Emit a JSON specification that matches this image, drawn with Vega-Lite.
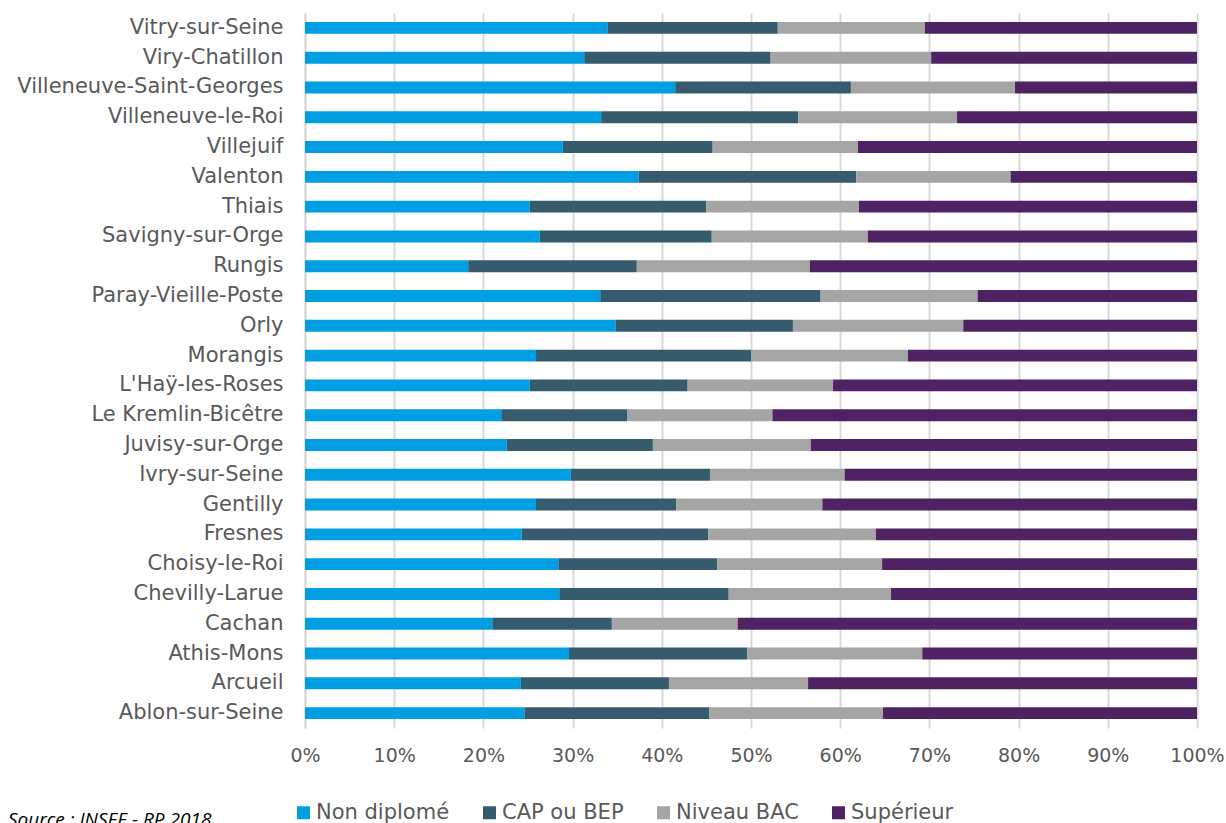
{
  "$schema": "https://vega.github.io/schema/vega-lite/v6.json",
  "width": 892,
  "height": 715,
  "autosize": {"type": "none"},
  "padding": {"left": 305, "top": 13, "right": 29, "bottom": 95},
  "background": "white",
  "title": {
    "text": "Source : INSEE - RP 2018",
    "orient": "bottom",
    "anchor": "start",
    "frame": "group",
    "font": "Open Sans",
    "fontSize": 19,
    "fontStyle": "italic",
    "fontWeight": "normal",
    "color": "#000000",
    "dx": -297,
    "offset": -12
  },
  "data": {"values": [
    {"commune":"Vitry-sur-Seine","niveau":"Non diplomé","ordre":1,"part":33.9},
    {"commune":"Vitry-sur-Seine","niveau":"CAP ou BEP","ordre":2,"part":19.1},
    {"commune":"Vitry-sur-Seine","niveau":"Niveau BAC","ordre":3,"part":16.5},
    {"commune":"Vitry-sur-Seine","niveau":"Supérieur","ordre":4,"part":30.5},
    {"commune":"Viry-Chatillon","niveau":"Non diplomé","ordre":1,"part":31.3},
    {"commune":"Viry-Chatillon","niveau":"CAP ou BEP","ordre":2,"part":20.9},
    {"commune":"Viry-Chatillon","niveau":"Niveau BAC","ordre":3,"part":18.0},
    {"commune":"Viry-Chatillon","niveau":"Supérieur","ordre":4,"part":29.8},
    {"commune":"Villeneuve-Saint-Georges","niveau":"Non diplomé","ordre":1,"part":41.5},
    {"commune":"Villeneuve-Saint-Georges","niveau":"CAP ou BEP","ordre":2,"part":19.7},
    {"commune":"Villeneuve-Saint-Georges","niveau":"Niveau BAC","ordre":3,"part":18.4},
    {"commune":"Villeneuve-Saint-Georges","niveau":"Supérieur","ordre":4,"part":20.4},
    {"commune":"Villeneuve-le-Roi","niveau":"Non diplomé","ordre":1,"part":33.2},
    {"commune":"Villeneuve-le-Roi","niveau":"CAP ou BEP","ordre":2,"part":22.1},
    {"commune":"Villeneuve-le-Roi","niveau":"Niveau BAC","ordre":3,"part":17.8},
    {"commune":"Villeneuve-le-Roi","niveau":"Supérieur","ordre":4,"part":26.9},
    {"commune":"Villejuif","niveau":"Non diplomé","ordre":1,"part":28.9},
    {"commune":"Villejuif","niveau":"CAP ou BEP","ordre":2,"part":16.8},
    {"commune":"Villejuif","niveau":"Niveau BAC","ordre":3,"part":16.3},
    {"commune":"Villejuif","niveau":"Supérieur","ordre":4,"part":38.0},
    {"commune":"Valenton","niveau":"Non diplomé","ordre":1,"part":37.4},
    {"commune":"Valenton","niveau":"CAP ou BEP","ordre":2,"part":24.4},
    {"commune":"Valenton","niveau":"Niveau BAC","ordre":3,"part":17.3},
    {"commune":"Valenton","niveau":"Supérieur","ordre":4,"part":20.9},
    {"commune":"Thiais","niveau":"Non diplomé","ordre":1,"part":25.2},
    {"commune":"Thiais","niveau":"CAP ou BEP","ordre":2,"part":19.8},
    {"commune":"Thiais","niveau":"Niveau BAC","ordre":3,"part":17.1},
    {"commune":"Thiais","niveau":"Supérieur","ordre":4,"part":37.9},
    {"commune":"Savigny-sur-Orge","niveau":"Non diplomé","ordre":1,"part":26.3},
    {"commune":"Savigny-sur-Orge","niveau":"CAP ou BEP","ordre":2,"part":19.3},
    {"commune":"Savigny-sur-Orge","niveau":"Niveau BAC","ordre":3,"part":17.5},
    {"commune":"Savigny-sur-Orge","niveau":"Supérieur","ordre":4,"part":36.9},
    {"commune":"Rungis","niveau":"Non diplomé","ordre":1,"part":18.3},
    {"commune":"Rungis","niveau":"CAP ou BEP","ordre":2,"part":18.9},
    {"commune":"Rungis","niveau":"Niveau BAC","ordre":3,"part":19.4},
    {"commune":"Rungis","niveau":"Supérieur","ordre":4,"part":43.4},
    {"commune":"Paray-Vieille-Poste","niveau":"Non diplomé","ordre":1,"part":33.1},
    {"commune":"Paray-Vieille-Poste","niveau":"CAP ou BEP","ordre":2,"part":24.7},
    {"commune":"Paray-Vieille-Poste","niveau":"Niveau BAC","ordre":3,"part":17.6},
    {"commune":"Paray-Vieille-Poste","niveau":"Supérieur","ordre":4,"part":24.6},
    {"commune":"Orly","niveau":"Non diplomé","ordre":1,"part":34.8},
    {"commune":"Orly","niveau":"CAP ou BEP","ordre":2,"part":19.9},
    {"commune":"Orly","niveau":"Niveau BAC","ordre":3,"part":19.1},
    {"commune":"Orly","niveau":"Supérieur","ordre":4,"part":26.2},
    {"commune":"Morangis","niveau":"Non diplomé","ordre":1,"part":25.9},
    {"commune":"Morangis","niveau":"CAP ou BEP","ordre":2,"part":24.1},
    {"commune":"Morangis","niveau":"Niveau BAC","ordre":3,"part":17.6},
    {"commune":"Morangis","niveau":"Supérieur","ordre":4,"part":32.4},
    {"commune":"L'Haÿ-les-Roses","niveau":"Non diplomé","ordre":1,"part":25.2},
    {"commune":"L'Haÿ-les-Roses","niveau":"CAP ou BEP","ordre":2,"part":17.7},
    {"commune":"L'Haÿ-les-Roses","niveau":"Niveau BAC","ordre":3,"part":16.3},
    {"commune":"L'Haÿ-les-Roses","niveau":"Supérieur","ordre":4,"part":40.8},
    {"commune":"Le Kremlin-Bicêtre","niveau":"Non diplomé","ordre":1,"part":22.0},
    {"commune":"Le Kremlin-Bicêtre","niveau":"CAP ou BEP","ordre":2,"part":14.1},
    {"commune":"Le Kremlin-Bicêtre","niveau":"Niveau BAC","ordre":3,"part":16.3},
    {"commune":"Le Kremlin-Bicêtre","niveau":"Supérieur","ordre":4,"part":47.6},
    {"commune":"Juvisy-sur-Orge","niveau":"Non diplomé","ordre":1,"part":22.6},
    {"commune":"Juvisy-sur-Orge","niveau":"CAP ou BEP","ordre":2,"part":16.4},
    {"commune":"Juvisy-sur-Orge","niveau":"Niveau BAC","ordre":3,"part":17.7},
    {"commune":"Juvisy-sur-Orge","niveau":"Supérieur","ordre":4,"part":43.3},
    {"commune":"Ivry-sur-Seine","niveau":"Non diplomé","ordre":1,"part":29.8},
    {"commune":"Ivry-sur-Seine","niveau":"CAP ou BEP","ordre":2,"part":15.6},
    {"commune":"Ivry-sur-Seine","niveau":"Niveau BAC","ordre":3,"part":15.1},
    {"commune":"Ivry-sur-Seine","niveau":"Supérieur","ordre":4,"part":39.5},
    {"commune":"Gentilly","niveau":"Non diplomé","ordre":1,"part":25.9},
    {"commune":"Gentilly","niveau":"CAP ou BEP","ordre":2,"part":15.7},
    {"commune":"Gentilly","niveau":"Niveau BAC","ordre":3,"part":16.4},
    {"commune":"Gentilly","niveau":"Supérieur","ordre":4,"part":42.0},
    {"commune":"Fresnes","niveau":"Non diplomé","ordre":1,"part":24.3},
    {"commune":"Fresnes","niveau":"CAP ou BEP","ordre":2,"part":20.9},
    {"commune":"Fresnes","niveau":"Niveau BAC","ordre":3,"part":18.8},
    {"commune":"Fresnes","niveau":"Supérieur","ordre":4,"part":36.0},
    {"commune":"Choisy-le-Roi","niveau":"Non diplomé","ordre":1,"part":28.4},
    {"commune":"Choisy-le-Roi","niveau":"CAP ou BEP","ordre":2,"part":17.8},
    {"commune":"Choisy-le-Roi","niveau":"Niveau BAC","ordre":3,"part":18.5},
    {"commune":"Choisy-le-Roi","niveau":"Supérieur","ordre":4,"part":35.3},
    {"commune":"Chevilly-Larue","niveau":"Non diplomé","ordre":1,"part":28.5},
    {"commune":"Chevilly-Larue","niveau":"CAP ou BEP","ordre":2,"part":19.0},
    {"commune":"Chevilly-Larue","niveau":"Niveau BAC","ordre":3,"part":18.2},
    {"commune":"Chevilly-Larue","niveau":"Supérieur","ordre":4,"part":34.3},
    {"commune":"Cachan","niveau":"Non diplomé","ordre":1,"part":21.0},
    {"commune":"Cachan","niveau":"CAP ou BEP","ordre":2,"part":13.4},
    {"commune":"Cachan","niveau":"Niveau BAC","ordre":3,"part":14.1},
    {"commune":"Cachan","niveau":"Supérieur","ordre":4,"part":51.5},
    {"commune":"Athis-Mons","niveau":"Non diplomé","ordre":1,"part":29.6},
    {"commune":"Athis-Mons","niveau":"CAP ou BEP","ordre":2,"part":20.0},
    {"commune":"Athis-Mons","niveau":"Niveau BAC","ordre":3,"part":19.6},
    {"commune":"Athis-Mons","niveau":"Supérieur","ordre":4,"part":30.8},
    {"commune":"Arcueil","niveau":"Non diplomé","ordre":1,"part":24.2},
    {"commune":"Arcueil","niveau":"CAP ou BEP","ordre":2,"part":16.6},
    {"commune":"Arcueil","niveau":"Niveau BAC","ordre":3,"part":15.6},
    {"commune":"Arcueil","niveau":"Supérieur","ordre":4,"part":43.6},
    {"commune":"Ablon-sur-Seine","niveau":"Non diplomé","ordre":1,"part":24.6},
    {"commune":"Ablon-sur-Seine","niveau":"CAP ou BEP","ordre":2,"part":20.7},
    {"commune":"Ablon-sur-Seine","niveau":"Niveau BAC","ordre":3,"part":19.5},
    {"commune":"Ablon-sur-Seine","niveau":"Supérieur","ordre":4,"part":35.2}
  ]},
  "mark": {"type": "bar"},
  "encoding": {
    "y": {
      "field": "commune",
      "type": "nominal",
      "sort": ["Vitry-sur-Seine","Viry-Chatillon","Villeneuve-Saint-Georges","Villeneuve-le-Roi","Villejuif","Valenton","Thiais","Savigny-sur-Orge","Rungis","Paray-Vieille-Poste","Orly","Morangis","L'Haÿ-les-Roses","Le Kremlin-Bicêtre","Juvisy-sur-Orge","Ivry-sur-Seine","Gentilly","Fresnes","Choisy-le-Roi","Chevilly-Larue","Cachan","Athis-Mons","Arcueil","Ablon-sur-Seine"],
      "scale": {"paddingInner": 0.6, "paddingOuter": 0.3},
      "axis": {
        "title": null,
        "ticks": false,
        "domain": true,
        "domainColor": "#d9d9d9",
        "domainWidth": 2,
        "labelFont": "DejaVu Sans",
        "labelFontSize": 21,
        "labelColor": "#595959",
        "labelPadding": 22,
        "labelLimit": 400
      }
    },
    "x": {
      "field": "part",
      "type": "quantitative",
      "stack": "normalize",
      "scale": {"domain": [0, 1], "nice": false},
      "axis": {
        "title": null,
        "format": ".0%",
        "values": [0,0.1,0.2,0.3,0.4,0.5,0.6,0.7,0.8,0.9,1],
        "labelOverlap": false,
        "grid": true,
        "gridColor": "#d9d9d9",
        "gridWidth": 2,
        "domain": false,
        "ticks": false,
        "labelFont": "DejaVu Sans",
        "labelFontSize": 19,
        "labelColor": "#595959",
        "labelPadding": 18,
        "labelFlush": false
      }
    },
    "color": {
      "field": "niveau",
      "type": "nominal",
      "scale": {
        "domain": ["Non diplomé","CAP ou BEP","Niveau BAC","Supérieur"],
        "range": ["#009FE3","#365B6D","#A5A5A5","#4E2263"]
      },
      "legend": {
        "title": null,
        "orient": "none",
        "direction": "horizontal",
        "legendX": -12,
        "legendY": 789,
        "symbolType": "square",
        "symbolSize": 169,
        "symbolStrokeWidth": 0,
        "labelFont": "DejaVu Sans",
        "labelFontSize": 21,
        "labelColor": "#595959",
        "labelOffset": 2,
        "columnPadding": 29,
        "labelLimit": 300
      }
    },
    "order": {"field": "ordre", "type": "quantitative", "sort": "ascending"}
  },
  "config": {
    "view": {"stroke": null},
    "axis": {"gridOpacity": 1}
  }
}
